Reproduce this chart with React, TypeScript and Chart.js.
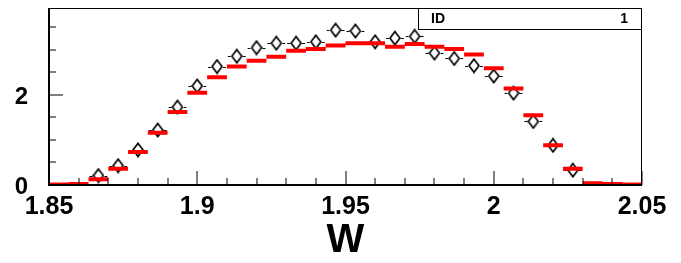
import React, { useEffect, useRef } from 'react';
import { Chart, registerables } from 'chart.js';

Chart.register(...registerables);

// ---- axis definition ----
const X_MIN = 1.85;
const X_MAX = 2.05;
const N_BINS = 30;
const Y_MIN = 0;
const Y_MAX = 3.93;
const X_MAJOR_STEP = 0.05;
const X_MINOR_STEP = 0.01;
const Y_MAJOR_TICKS = [0, 2];
const Y_MINOR_STEP = 0.5;
const X_TITLE = 'W';

// ---- stat box ----
const STAT_LABEL = 'ID';
const STAT_VALUE = '1';

// ---- series: histogram (red) bin contents ----
const HIST_VALUES = [
  0.01, 0.02, 0.13, 0.36, 0.73, 1.16, 1.62, 2.05, 2.39, 2.63,
  2.76, 2.85, 2.98, 3.02, 3.10, 3.15, 3.15, 3.07, 3.13, 3.07,
  3.02, 2.90, 2.59, 2.14, 1.55, 0.88, 0.36, 0.04, 0.02, 0.01,
];

// ---- series: data points (open diamonds), null = empty bin ----
const DATA_VALUES: (number | null)[] = [
  null, null, 0.21, 0.43, 0.78, 1.22, 1.73, 2.20, 2.63, 2.86,
  3.05, 3.15, 3.15, 3.18, 3.44, 3.42, 3.18, 3.26, 3.30, 2.93,
  2.81, 2.65, 2.42, 2.04, 1.41, 0.88, 0.33, null, null, null,
];

const FONT = "'Liberation Sans', Arial, Helvetica, sans-serif";
const binEdge = (i: number) => X_MIN + (i * (X_MAX - X_MIN)) / N_BINS;
const binCenter = (i: number) => (binEdge(i) + binEdge(i + 1)) / 2;

function makeDiamond(): HTMLCanvasElement {
  const c = document.createElement('canvas');
  c.width = 12;
  c.height = 16;
  const g = c.getContext('2d')!;
  g.strokeStyle = '#000';
  g.lineWidth = 1.7;
  g.beginPath();
  g.moveTo(6, 1.5);
  g.lineTo(11, 8);
  g.lineTo(6, 14.5);
  g.lineTo(1, 8);
  g.closePath();
  g.stroke();
  return c;
}

const rootPlugin = {
  id: 'rootDecor',
  beforeDatasetsDraw(chart: any) {
    const { ctx } = chart;
    const xs = chart.scales.x;
    const ys = chart.scales.y;
    ctx.save();
    ctx.strokeStyle = '#000';
    ctx.lineWidth = 1;
    DATA_VALUES.forEach((v, i) => {
      if (v == null) return;
      const xc = xs.getPixelForValue(binCenter(i));
      const xl = xs.getPixelForValue(binEdge(i));
      const xr = xs.getPixelForValue(binEdge(i + 1));
      const y = Math.round(ys.getPixelForValue(v)) + 0.5;
      ctx.beginPath();
      ctx.moveTo(xl + 1, y);
      ctx.lineTo(xc - 6, y);
      ctx.moveTo(xc + 6, y);
      ctx.lineTo(xr - 1, y);
      ctx.stroke();
    });
    ctx.restore();
  },
  afterDraw(chart: any) {
    const { ctx, chartArea } = chart;
    const { left, right, top, bottom } = chartArea;
    const xs = chart.scales.x;
    const ys = chart.scales.y;
    ctx.save();
    ctx.fillStyle = '#000';
    // frame
    ctx.fillRect(left - 1, top, 2, bottom - top + 1);
    ctx.fillRect(left - 1, bottom - 1, right - left + 1, 2);
    ctx.fillRect(left - 1, top, right - left + 1, 1);
    ctx.fillRect(right - 1, top, 1, bottom - top);
    // x ticks
    const nx = Math.round((X_MAX - X_MIN) / X_MINOR_STEP);
    for (let k = 0; k <= nx; k++) {
      const v = X_MIN + k * X_MINOR_STEP;
      const r = v / X_MAJOR_STEP;
      const major = Math.abs(r - Math.round(r)) < 1e-6;
      const len = major ? 14 : 7;
      const px = Math.round(xs.getPixelForValue(v)) - 0.5;
      ctx.fillRect(px, bottom - len, 1, len);
    }
    // y ticks
    const ny = Math.floor((Y_MAX - Y_MIN) / Y_MINOR_STEP + 1e-9);
    for (let k = 0; k <= ny; k++) {
      const v = Y_MIN + k * Y_MINOR_STEP;
      const major = Y_MAJOR_TICKS.some((m) => Math.abs(m - v) < 1e-9);
      const len = major ? 14 : 7;
      const py = Math.round(ys.getPixelForValue(v)) - 0.5;
      ctx.fillRect(left, py, len, 1);
    }
    // stat box
    const bx = right - 223.5;
    const by = top + 0.5;
    const bw = 223;
    const bh = 21;
    ctx.fillStyle = '#fff';
    ctx.fillRect(bx, by, bw, bh);
    ctx.strokeStyle = '#000';
    ctx.lineWidth = 1;
    ctx.strokeRect(bx, by, bw, bh);
    ctx.fillStyle = '#000';
    ctx.font = `bold 14px ${FONT}`;
    ctx.textBaseline = 'middle';
    ctx.textAlign = 'left';
    ctx.fillText(STAT_LABEL, bx + 12.5, by + bh / 2 + 0.5);
    ctx.textAlign = 'right';
    ctx.fillText(STAT_VALUE, bx + bw - 13.5, by + bh / 2 + 0.5);
    ctx.restore();
  },
};

export default function App() {
  const ref = useRef<HTMLCanvasElement | null>(null);

  useEffect(() => {
    if (!ref.current) return;
    const histPoints: { x: number; y: number | null }[] = [];
    HIST_VALUES.forEach((v, i) => {
      histPoints.push({ x: binEdge(i), y: v });
      histPoints.push({ x: binEdge(i + 1), y: v });
      histPoints.push({ x: binEdge(i + 1), y: null });
    });
    const dataPoints = DATA_VALUES.map((v, i) => ({ x: binCenter(i), y: v }));
    const diamond = makeDiamond();

    const chart = new Chart(ref.current, {
      type: 'line',
      data: {
        datasets: [
          {
            label: 'hist',
            data: histPoints as any,
            borderColor: '#ff0000',
            borderWidth: 4,
            borderCapStyle: 'butt',
            pointRadius: 0,
            spanGaps: false,
            fill: false,
            clip: 0 as any,
          },
          {
            label: 'data',
            data: dataPoints as any,
            showLine: false,
            pointStyle: diamond as any,
            pointRadius: 5,
            pointBorderWidth: 0,
            pointBackgroundColor: 'rgba(0,0,0,0)',
            pointBorderColor: '#000',
          },
        ],
      },
      options: {
        responsive: false,
        animation: false,
        devicePixelRatio: 1,
        layout: { padding: { top: 8, right: 39, left: 0, bottom: 0 } },
        plugins: {
          legend: { display: false },
          tooltip: { enabled: false },
        },
        scales: {
          x: {
            type: 'linear',
            min: X_MIN,
            max: X_MAX,
            grid: { display: false, drawTicks: false },
            border: { display: false },
            ticks: {
              stepSize: X_MAJOR_STEP,
              autoSkip: false,
              maxRotation: 0,
              minRotation: 0,
              padding: 7,
              color: '#000',
              font: { family: FONT, size: 25, weight: 'bold' },
              callback: (v: any) => String(Number(Number(v).toFixed(2))),
            },
            title: {
              display: true,
              text: X_TITLE,
              color: '#000',
              font: { family: FONT, size: 40, weight: 'bold', lineHeight: 1 },
              padding: { top: 0, bottom: 2 },
            },
            afterFit: (s: any) => {
              s.height = 78;
              s.paddingLeft = 0;
              s.paddingRight = 0;
            },
          },
          y: {
            type: 'linear',
            min: Y_MIN,
            max: Y_MAX,
            grid: { display: false, drawTicks: false },
            border: { display: false },
            ticks: {
              stepSize: Y_MINOR_STEP,
              autoSkip: false,
              padding: 21,
              labelOffset: 2.5,
              color: '#000',
              font: { family: FONT, size: 24, weight: 'bold' },
              callback: (v: any) =>
                Y_MAJOR_TICKS.some((m) => Math.abs(m - Number(v)) < 1e-9) ? String(v) : '',
            },
            afterFit: (s: any) => {
              s.width = 49;
              s.paddingTop = 0;
              s.paddingBottom = 0;
            },
          },
        },
      },
      plugins: [rootPlugin],
    });
    return () => chart.destroy();
  }, []);

  return (
    <div style={{ position: 'absolute', left: 0, top: 0, width: 681, height: 263, background: '#fff' }}>
      <canvas ref={ref} width={681} height={263} />
    </div>
  );
}
